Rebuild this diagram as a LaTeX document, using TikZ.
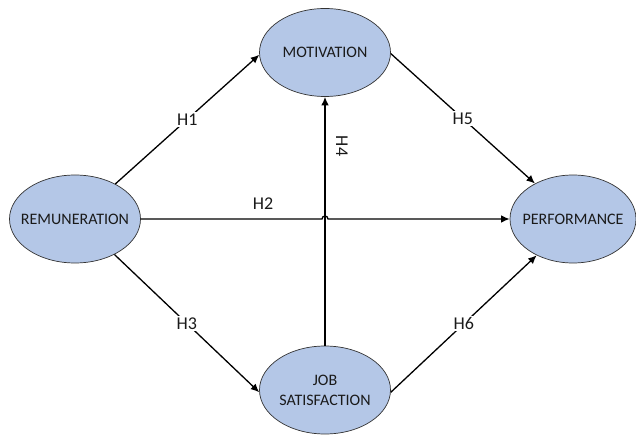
\documentclass[tikz,border=0pt]{standalone}
\usepackage{fontspec}
\setmainfont{Carlito}
\usetikzlibrary{arrows.meta,shapes.geometric}
\definecolor{nodefill}{HTML}{B4C7E7}
\definecolor{txt}{HTML}{1A1A1A}
\begin{document}
\begin{tikzpicture}[x=1pt,y=-1pt,
  construct/.style={ellipse, draw=black!80, line width=0.7pt, fill=nodefill,
    minimum width=131pt, minimum height=88pt, inner sep=-14pt,
    font=\fontsize{16}{20}\selectfont, text=txt, align=center},
  hpath/.style={line width=1.3pt, -{Latex[length=8.5pt,width=7.5pt]}},
  hyp/.style={font=\fontsize{18}{20}\selectfont, text=txt, fill=white, inner sep=1.5pt}]
\useasboundingbox (0,0) rectangle (636,435);
\node[construct] (rem) at (75,219) {REMUNERATION};
\node[construct] (mot) at (325,52.5) {MOTIVATION};
\node[construct] (job) at (325,390) {JOB\\SATISFACTION};
\node[construct, minimum width=126pt] (perf) at (573,219) {PERFORMANCE};
\coordinate (cross) at (job.north |- rem.east);
% H1
\draw[hpath] (rem.41) -- node[hyp] {H1} (mot.182);
% H5
\draw[hpath] (mot.-1) -- node[hyp] {H5} (perf.137);
% H3
\draw[hpath] (rem.-42) -- node[hyp] {H3} (job.182);
% H6
\draw[hpath] (job.358) -- node[hyp] {H6} (perf.225);
% H4
\draw[hpath] (job.north) -- (mot.south);
\node[hyp, fill=none, rotate=-90] (h4) at (342,146) {H4};
% H2
\draw[hpath] (rem.east) -- ([xshift=-3pt]cross) arc[start angle=180, end angle=0, radius=3pt] -- (perf.west);
\node[hyp, fill=none] (h2) at (263,204) {H2};
\end{tikzpicture}
\end{document}
